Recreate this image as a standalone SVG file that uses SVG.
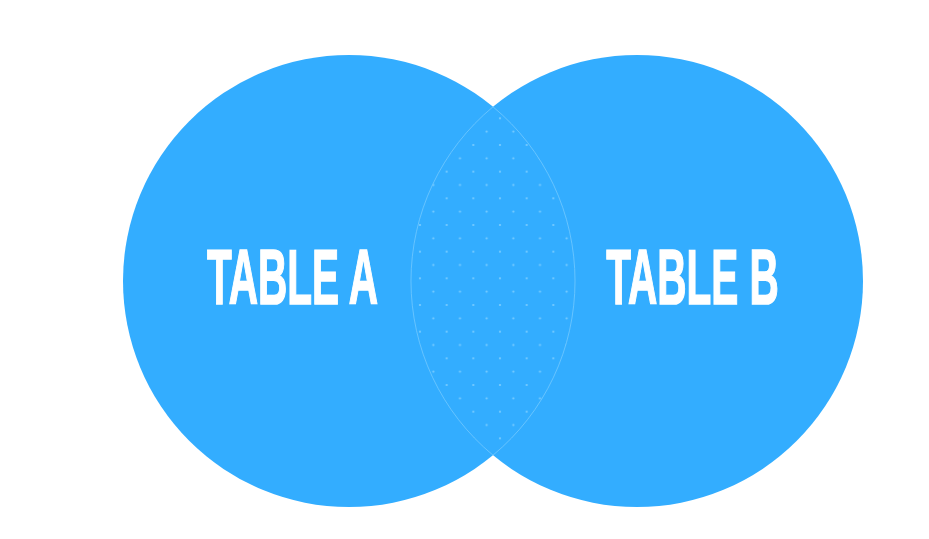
<svg xmlns="http://www.w3.org/2000/svg" width="929" height="539" viewBox="0 0 929 539">
  <defs>
    <pattern id="dots" x="0" y="0" width="26.67" height="26.67" patternUnits="userSpaceOnUse" patternTransform="translate(500 118.3)">
      <circle cx="0" cy="0" r="1.1" fill="#7ccdff"/>
      <circle cx="13.33" cy="13.33" r="1.1" fill="#7ccdff"/>
      <circle cx="26.67" cy="0" r="1.1" fill="#7ccdff"/>
      <circle cx="0" cy="26.67" r="1.1" fill="#7ccdff"/>
      <circle cx="26.67" cy="26.67" r="1.1" fill="#7ccdff"/>
    </pattern>
    <clipPath id="clipA">
      <circle cx="349" cy="281" r="226"/>
    </clipPath>
  </defs>
  <style>
    .circle { fill: #33adff; }
    .label { font-family: "Liberation Sans", Arial, sans-serif; font-weight: bold; font-size: 78px; fill: #ffffff; stroke: #ffffff; stroke-width: 1.6; text-anchor: middle; }
    .lens { fill: url(#dots); stroke: #7ccdff; stroke-width: 1; stroke-opacity: 0.7; }
  </style>
  <rect width="929" height="539" fill="#ffffff"/>
  <g id="tableA">
    <circle class="circle" cx="349" cy="281" r="226"/>
  </g>
  <g id="tableB">
    <circle class="circle" cx="637" cy="281" r="226"/>
  </g>
  <g id="intersection">
    <path class="lens" d="M493 106.8 A226 226 0 0 1 493 455.2 A226 226 0 0 1 493 106.8 Z"/>
  </g>
  <g id="labels">
    <text class="label" transform="translate(292.5 304) scale(0.52 1)">TABLE A</text>
    <text class="label" transform="translate(692.5 304) scale(0.52 1)">TABLE B</text>
  </g>
</svg>
